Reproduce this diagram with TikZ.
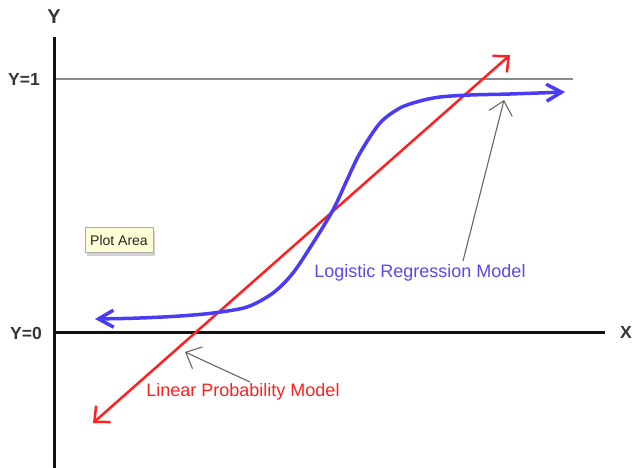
\documentclass[tikz,border=0pt]{standalone}
\usepackage{fontspec}
\setmainfont{Liberation Sans}
\usetikzlibrary{arrows.meta,shadows}
\definecolor{axisblack}{HTML}{111111}
\definecolor{refgray}{HTML}{8A8A8A}
\definecolor{annogray}{HTML}{666666}
\definecolor{linred}{HTML}{FF2020}
\definecolor{logblue}{HTML}{4A3CF5}
\definecolor{logtext}{HTML}{5A48F0}
\definecolor{notefill}{HTML}{FFFFD6}
\tikzset{
  axisline/.style={line width=3pt, draw=axisblack},
  refline/.style={line width=1.3pt, draw=refgray},
  axislabel/.style={font=\bfseries\fontsize{17.5}{19}\selectfont, text=axisblack!85, inner sep=0pt},
  redline/.style={line width=2.5pt, draw=linred, line cap=round,
     {Straight Barb[length=12pt,width=22pt,line width=2.5pt]}-{Straight Barb[length=12pt,width=22pt,line width=2.5pt]}},
  blueline/.style={line width=3.5pt, draw=logblue, line cap=round,
     {Straight Barb[length=15pt,width=17pt,line width=3.5pt]}-{Straight Barb[length=15pt,width=17pt,line width=3.5pt]}},
  annoarrow/.style={line width=1.1pt, draw=annogray, -{Straight Barb[length=13pt,width=24pt,line width=1.1pt]}},
  modellabel/.style={font=\fontsize{18}{20}\selectfont, inner sep=0pt},
  notebox/.style={draw=refgray!70, fill=notefill, line width=0.6pt, inner sep=2pt,
     font=\fontsize{14}{16}\selectfont, text=black!85, minimum width=68pt, minimum height=25pt,
     drop shadow={shadow xshift=1.5pt, shadow yshift=-3pt, opacity=0.35}}
}
\begin{document}
\begin{tikzpicture}[x=1pt,y=-1pt]
\useasboundingbox (0,0) rectangle (634,468);
\fill[white] (0,0) rectangle (634,468);
% axes
\coordinate (ytop) at (54,37);
\coordinate (ybot) at (54,468);
\coordinate (xleft) at (54,332);
\coordinate (xright) at (605,332);
\coordinate (oneleft) at (54,79);
\coordinate (oneright) at (573,79);
\draw[refline] (oneleft) -- (oneright);
\draw[axisline] (ytop) -- (ybot);
\draw[axisline] (xleft) -- (xright);
\node[axislabel, font=\bfseries\fontsize{20}{22}\selectfont] (ylab) at (54,17) {Y};
\node[axislabel] (xlab) at (626,332) {X};
\node[axislabel] (y1lab) at (24,79) {Y=1};
\node[axislabel] (y0lab) at (26,333) {Y=0};
% plot area note
\node[notebox] (plotarea) at (119,240) {Plot Area};
% linear probability model
\coordinate (redlow) at (93,423);
\coordinate (redhigh) at (510,55);
\draw[redline] (redlow) -- (redhigh);
% logistic curve
\draw[blueline] plot[smooth, tension=0.5] coordinates {
 (95,319) (140,318) (180,316) (213,313) (247,307) (273,293) (293,273)
 (313,243) (333,210) (347,180) (360,153) (380,123) (400,108) (420,101)
 (440,97) (470,95) (510,94) (565,92)};
% labels
\node[modellabel, text=logtext] (loglab) at (420,273) {Logistic Regression Model};
\node[modellabel, text=linred] (linlab) at (243,392) {Linear Probability Model};
% annotation arrows
\coordinate (logtail) at (463,261);
\coordinate (logtip) at (504,100);
\coordinate (lintail) at (250,382);
\coordinate (lintip) at (185,352);
\draw[annoarrow] (logtail) -- (logtip);
\draw[annoarrow] (lintail) -- (lintip);
\end{tikzpicture}
\end{document}
